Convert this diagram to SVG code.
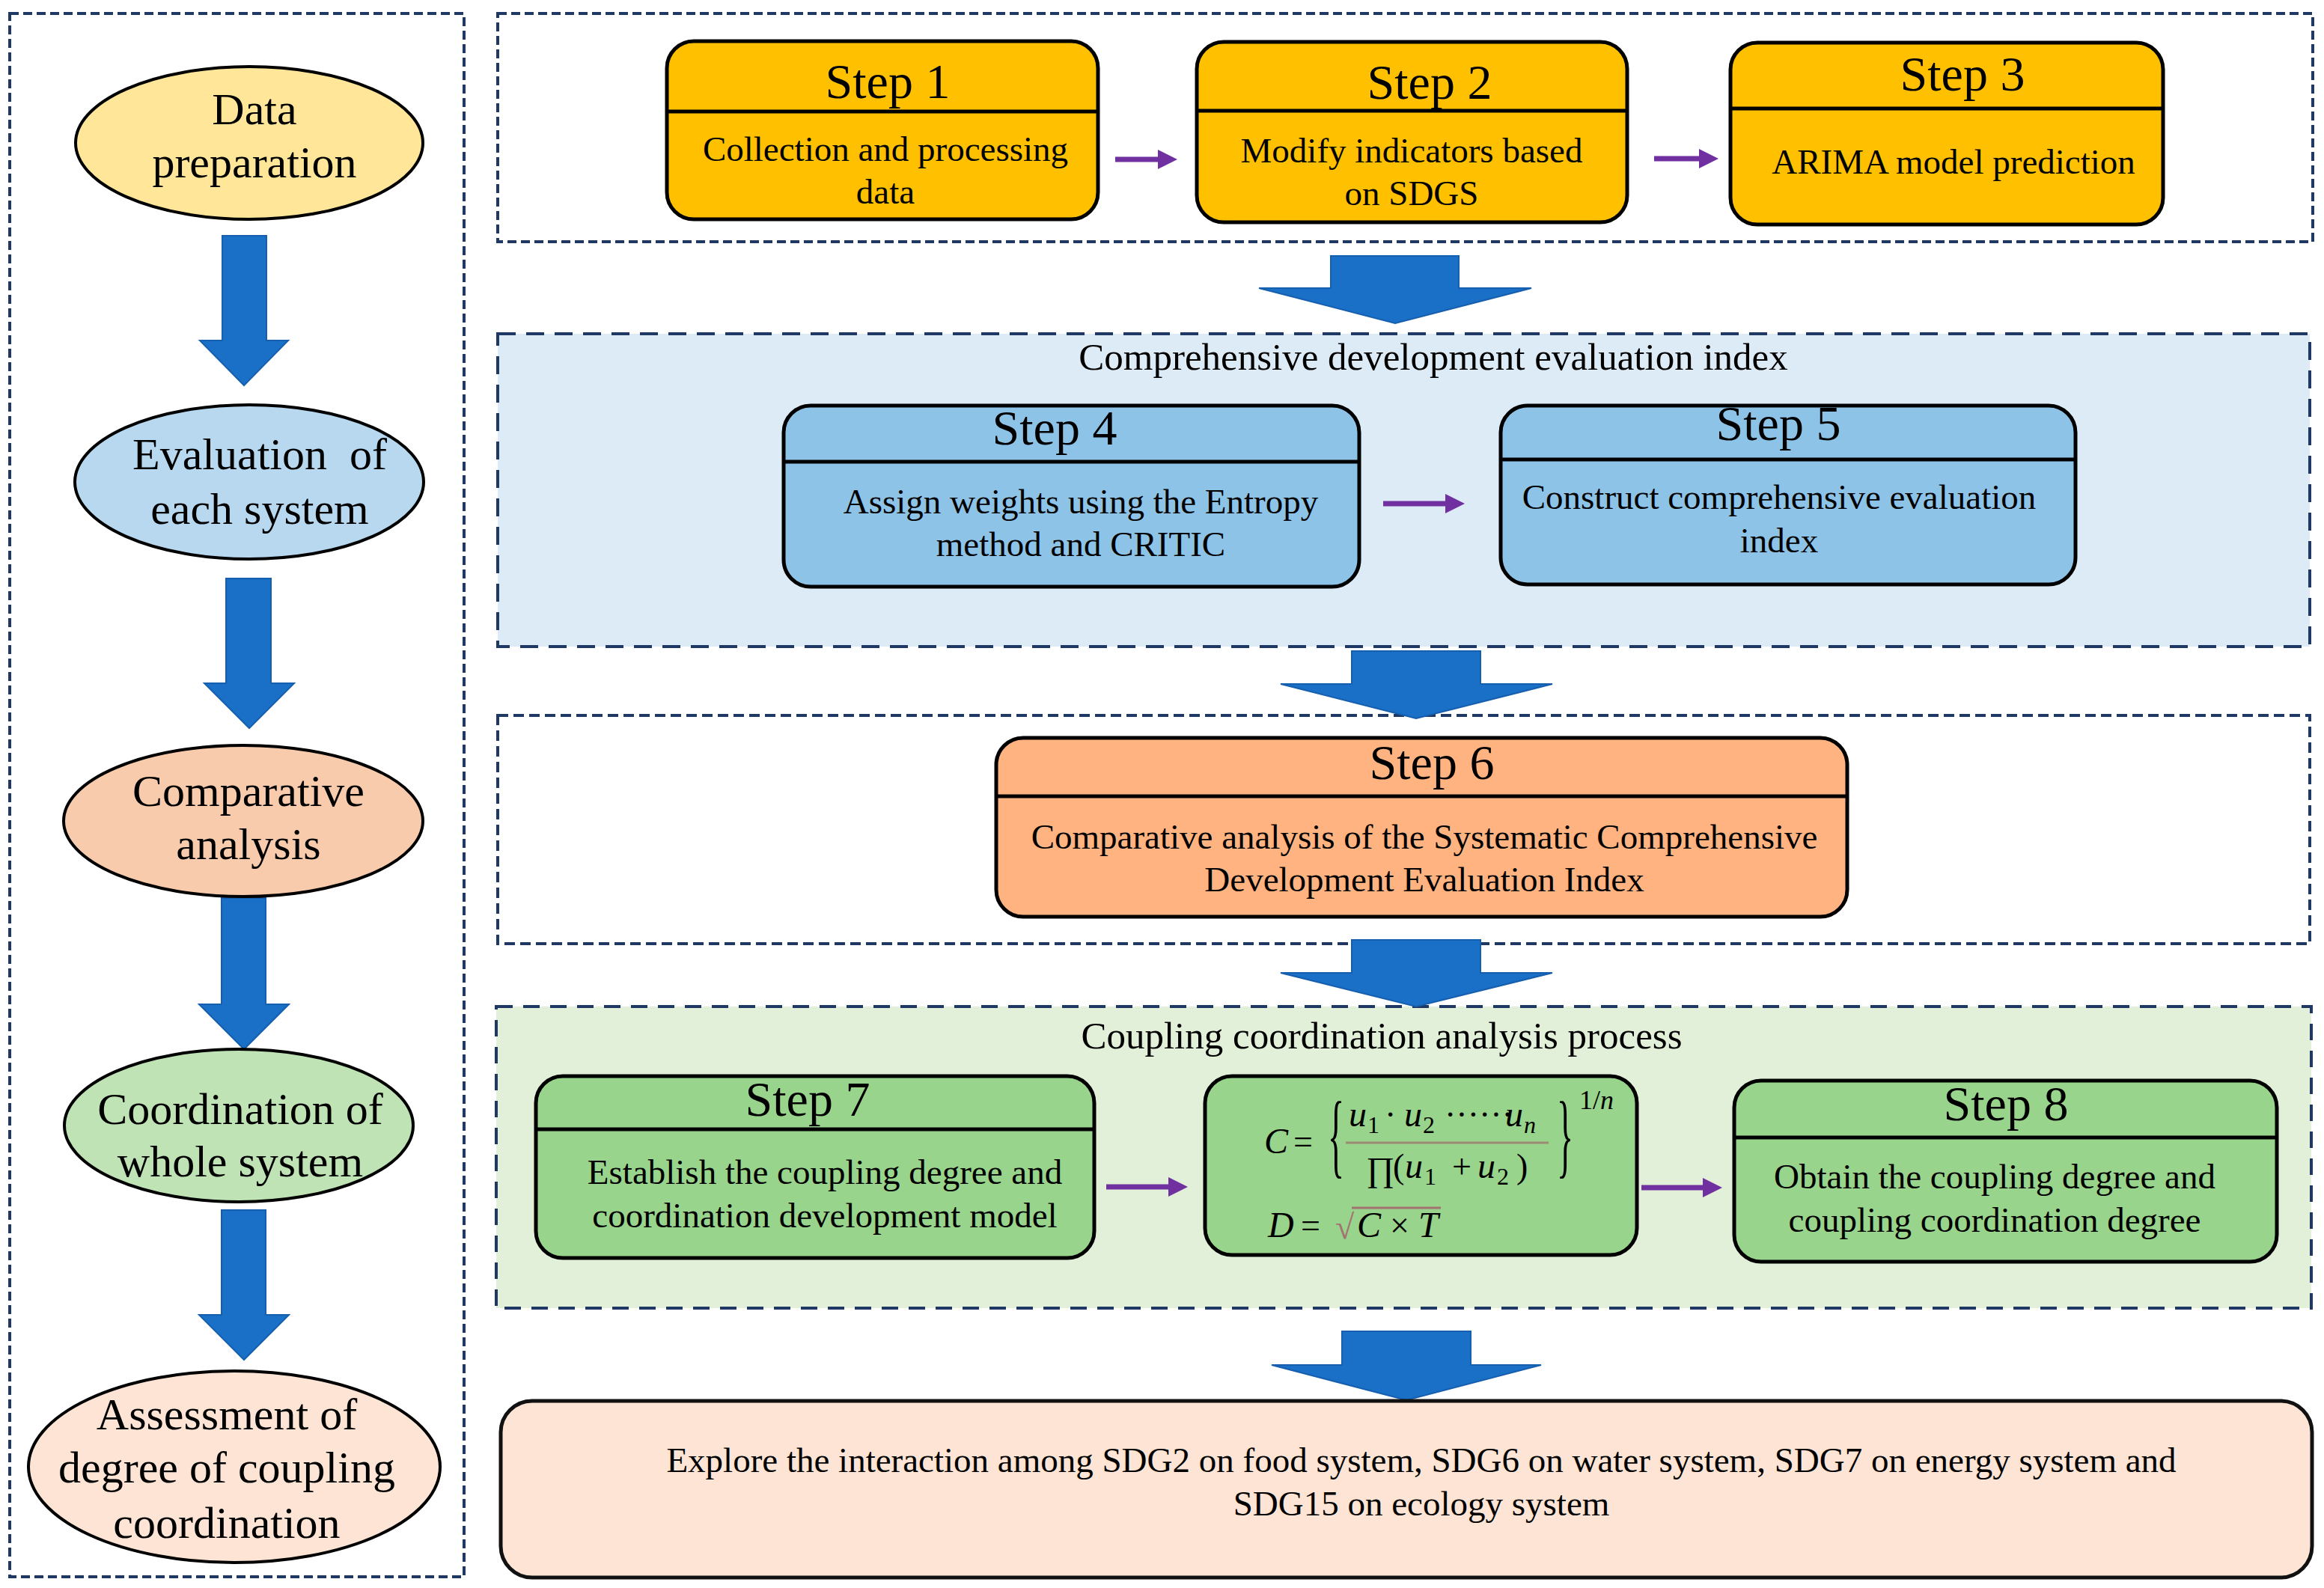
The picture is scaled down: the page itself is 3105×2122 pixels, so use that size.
<svg xmlns="http://www.w3.org/2000/svg" width="3105" height="2122" viewBox="0 0 3105 2122">
<style>
text { font-family: "Liberation Serif", "Times New Roman", serif; fill: #000; }
.hdr { font-size: 66px; text-anchor: middle; }
.body { font-size: 47px; text-anchor: middle; }
.ell { font-size: 60px; text-anchor: middle; }
.title { font-size: 51px; text-anchor: middle; }
.m { font-size: 48px; font-style: italic; }
.mr { font-size: 46px; font-style: normal; }
.sub { font-size: 32px; }
.cont { stroke: #1F3864; stroke-width: 4; fill: none; }
.box { stroke: #000; stroke-width: 5; }
.div { stroke: #000; stroke-width: 5; }
.oval { stroke: #000; stroke-width: 4; }
.blk { fill: #1A6FC6; stroke: #165FAE; stroke-width: 2; }
.pl { stroke: #7030A0; stroke-width: 7; fill: none; }
</style>
<defs>
<marker id="pa" markerWidth="26" markerHeight="26" refX="12" refY="13" orient="auto" markerUnits="userSpaceOnUse">
<path d="M0,0 L26,13 L0,26 z" fill="#7030A0"/>
</marker>
</defs>
<rect width="3105" height="2122" fill="#fff"/>

<g id="containers">
<rect class="cont" x="13" y="18" width="607" height="2089" stroke-dasharray="12 6"/>
<rect class="cont" x="665" y="18" width="2425" height="305" stroke-dasharray="12 6"/>
<rect class="cont" x="665" y="446" width="2421" height="418" style="fill:#DDEBF7" stroke-dasharray="24 14"/>
<rect class="cont" x="665" y="956" width="2421" height="305" stroke-dasharray="14 7"/>
<rect class="cont" x="663" y="1345" width="2425" height="403" style="fill:#E2F0D9" stroke-dasharray="22 14"/>
<text class="title" x="1915" y="494">Comprehensive development evaluation index</text>
<text class="title" x="1846" y="1401">Coupling coordination analysis process</text>
</g>

<g id="connectors">
<polygon class="blk" points="297,315 356,315 356,455 385,455 326,515 267,455 297,455"/>
<polygon class="blk" points="302,773 362,773 362,913 393,913 333,973 273,913 302,913"/>
<polygon class="blk" points="296,1200 355,1200 355,1342 386,1342 326,1402 266,1342 296,1342"/>
<polygon class="blk" points="296,1617 355,1617 355,1757 386,1757 326,1817 266,1757 296,1757"/>
<polygon class="blk" points="1778,342 1949,342 1949,385 2046,385 1864,432 1682,385 1778,385"/>
<polygon class="blk" points="1806,870 1978,870 1978,914 2074,914 1892,960 1711,914 1806,914"/>
<polygon class="blk" points="1806,1256 1978,1256 1978,1300 2074,1300 1892,1345 1711,1300 1806,1300"/>
<polygon class="blk" points="1793,1779 1965,1779 1965,1824 2059,1824 1879,1871 1699,1824 1793,1824"/>
<line class="pl" x1="1490" y1="213" x2="1559" y2="213" marker-end="url(#pa)"/>
<line class="pl" x1="2210" y1="212" x2="2282" y2="212" marker-end="url(#pa)"/>
<line class="pl" x1="1848" y1="673" x2="1943" y2="673" marker-end="url(#pa)"/>
<line class="pl" x1="1478" y1="1586" x2="1573" y2="1586" marker-end="url(#pa)"/>
<line class="pl" x1="2193" y1="1587" x2="2287" y2="1587" marker-end="url(#pa)"/>
</g>

<g id="n-data">
<ellipse class="oval" cx="333" cy="191" rx="232" ry="102" fill="#FFE699"/>
<text class="ell" x="340" y="166">Data</text>
<text class="ell" x="340" y="237">preparation</text>
</g>
<g id="n-eval">
<ellipse class="oval" cx="333" cy="644" rx="233" ry="103" fill="#B8D8F0"/>
<text class="ell" x="347" y="627">Evaluation&#160; of</text>
<text class="ell" x="347" y="700">each system</text>
</g>
<g id="n-comp">
<ellipse class="oval" cx="325" cy="1097" rx="240" ry="101" fill="#F8CBAD"/>
<text class="ell" x="332" y="1077">Comparative</text>
<text class="ell" x="332" y="1148">analysis</text>
</g>
<g id="n-coord">
<ellipse class="oval" cx="319" cy="1504" rx="233" ry="102" fill="#BFE3B5"/>
<text class="ell" x="321" y="1502">Coordination of</text>
<text class="ell" x="321" y="1572">whole system</text>
</g>
<g id="n-assess">
<ellipse class="oval" cx="313" cy="1960" rx="275" ry="128" fill="#FDE4D4"/>
<text class="ell" x="303" y="1910">Assessment of</text>
<text class="ell" x="303" y="1981">degree of coupling</text>
<text class="ell" x="303" y="2055">coordination</text>
</g>

<g id="step1">
<rect class="box" x="891" y="55" width="576" height="238" rx="36" fill="#FFC000"/>
<line class="div" x1="891" y1="149" x2="1467" y2="149"/>
<text class="hdr" x="1186" y="131">Step 1</text>
<text class="body" x="1183" y="215">Collection and processing</text>
<text class="body" x="1183" y="272">data</text>
</g>
<g id="step2">
<rect class="box" x="1599" y="56" width="575" height="241" rx="36" fill="#FFC000"/>
<line class="div" x1="1599" y1="148" x2="2174" y2="148"/>
<text class="hdr" x="1910" y="132">Step 2</text>
<text class="body" x="1886" y="217">Modify indicators based</text>
<text class="body" x="1886" y="274">on SDGS</text>
</g>
<g id="step3">
<rect class="box" x="2312" y="57" width="578" height="243" rx="36" fill="#FFC000"/>
<line class="div" x1="2312" y1="145" x2="2890" y2="145"/>
<text class="hdr" x="2622" y="121">Step 3</text>
<text class="body" x="2610" y="232">ARIMA model prediction</text>
</g>
<g id="step4">
<rect class="box" x="1047" y="542" width="769" height="242" rx="36" fill="#8EC3E8"/>
<line class="div" x1="1047" y1="617" x2="1816" y2="617"/>
<text class="hdr" x="1409" y="594">Step 4</text>
<text class="body" x="1444" y="686">Assign weights using the Entropy</text>
<text class="body" x="1444" y="743">method and CRITIC</text>
</g>
<g id="step5">
<rect class="box" x="2005" y="542" width="768" height="239" rx="36" fill="#8EC3E8"/>
<line class="div" x1="2005" y1="614" x2="2773" y2="614"/>
<text class="hdr" x="2376" y="588">Step 5</text>
<text class="body" x="2377" y="680">Construct comprehensive evaluation</text>
<text class="body" x="2377" y="738">index</text>
</g>
<g id="step6">
<rect class="box" x="1331" y="986" width="1137" height="239" rx="36" fill="#FFB381"/>
<line class="div" x1="1331" y1="1064" x2="2468" y2="1064"/>
<text class="hdr" x="1913" y="1041">Step 6</text>
<text class="body" x="1903" y="1134">Comparative analysis of the Systematic Comprehensive</text>
<text class="body" x="1903" y="1191">Development Evaluation Index</text>
</g>
<g id="step7">
<rect class="box" x="716" y="1438" width="746" height="243" rx="36" fill="#98D48B"/>
<line class="div" x1="716" y1="1509" x2="1462" y2="1509"/>
<text class="hdr" x="1079" y="1491">Step 7</text>
<text class="body" x="1102" y="1582">Establish the coupling degree and</text>
<text class="body" x="1102" y="1640">coordination development model</text>
</g>
<g id="formula">
<rect class="box" x="1610" y="1438" width="577" height="239" rx="36" fill="#98D48B"/>
<text class="mr"><tspan class="m" x="1689" y="1541">C</tspan><tspan x="1728" y="1541">=</tspan><tspan class="m" x="1802" y="1505">u</tspan><tspan class="sub" x="1827" y="1514">1</tspan><tspan x="1850" y="1505">·</tspan><tspan class="m" x="1876" y="1505">u</tspan><tspan class="sub" x="1901" y="1514">2</tspan><tspan x="1930" y="1505">······</tspan><tspan class="m" x="2011" y="1505">u</tspan><tspan class="sub" x="2036" y="1514" font-style="italic">n</tspan><tspan x="1825" y="1578">∏</tspan><tspan x="1861" y="1574">(</tspan><tspan class="m" x="1877" y="1574">u</tspan><tspan class="sub" x="1903" y="1583">1</tspan><tspan x="1940" y="1574">+</tspan><tspan class="m" x="1974" y="1574">u</tspan><tspan class="sub" x="2000" y="1583">2</tspan><tspan x="2026" y="1574">)</tspan><tspan x="2110" y="1482" style="font-size:36px">1/</tspan><tspan style="font-size:36px;font-style:italic">n</tspan></text>
<text class="mr" transform="translate(1774,1558) scale(1,2.7)">{</text>
<line x1="1798" y1="1527" x2="2069" y2="1527" stroke="#9B8B74" stroke-width="3"/>
<text class="mr" transform="translate(2080,1558) scale(1,2.7)">}</text>
<text class="mr" y="1653"><tspan class="m" x="1694">D</tspan><tspan x="1738" y="1653">=</tspan><tspan x="1784" y="1655" style="fill:#A37272">√</tspan><tspan class="m" x="1813" y="1653">C</tspan><tspan x="1857" y="1653">×</tspan><tspan class="m" x="1895" y="1653">T</tspan></text>
<line x1="1806" y1="1614" x2="1925" y2="1614" stroke="#A37272" stroke-width="3"/>
</g>
<g id="step8">
<rect class="box" x="2317" y="1444" width="725" height="242" rx="36" fill="#98D48B"/>
<line class="div" x1="2317" y1="1520" x2="3042" y2="1520"/>
<text class="hdr" x="2680" y="1497">Step 8</text>
<text class="body" x="2665" y="1588">Obtain the coupling degree and</text>
<text class="body" x="2665" y="1646">coupling coordination degree</text>
</g>
<g id="result">
<rect x="669" y="1872" width="2420" height="236" rx="42" fill="#FDE4D4" stroke="#111" stroke-width="5"/>
<text class="body" x="1899" y="1967">Explore the interaction among SDG2 on food system, SDG6 on water system, SDG7 on energy system and</text>
<text class="body" x="1899" y="2025">SDG15 on ecology system</text>
</g>
</svg>
